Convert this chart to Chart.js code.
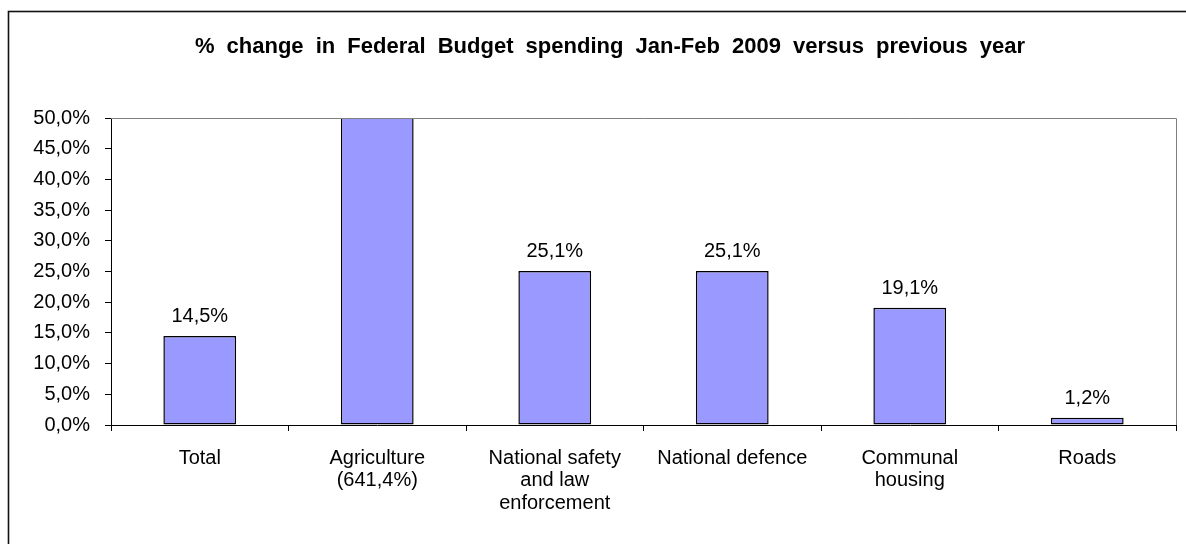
<!DOCTYPE html>
<html>
<head>
<meta charset="utf-8">
<script src="https://cdn.jsdelivr.net/npm/chart.js@4"></script>
<style>
  html, body { margin: 0; padding: 0; background: #fff; }
  #wrap { width: 1186px; height: 544px; position: relative; }
</style>
</head>
<body>
<div id="wrap"><canvas id="c"></canvas></div>
<script>
// Budget spending change, Jan-Feb 2009 vs the same period of the previous year
const titleText = '% change in Federal Budget spending Jan-Feb 2009 versus previous year';
const categories = [
  ['Total'],
  ['Agriculture', '(641,4%)'],
  ['National safety', 'and law', 'enforcement'],
  ['National defence'],
  ['Communal', 'housing'],
  ['Roads']
];
const changePct = [14.5, 641.4, 25.1, 25.1, 19.1, 1.2];
const yMin = 0;
const yMax = 50;
const yStep = 5;

const FONT = "'Liberation Sans', Arial, sans-serif";
const fmtPct = (v, d) => v.toFixed(d).replace('.', ',') + '%';

// Outer frame, plot-area frame and the title
const framePlugin = {
  id: 'frame',
  beforeDraw(chart) {
    const ctx = chart.ctx;
    ctx.save();
    ctx.fillStyle = '#fff';
    ctx.fillRect(0, 0, chart.width, chart.height);
    ctx.strokeStyle = '#111';
    ctx.lineWidth = 1.6;
    ctx.strokeRect(8.5, 11.5, chart.width + 50, chart.height + 50);
    ctx.restore();
  },
  afterDraw(chart) {
    const ctx = chart.ctx;
    const a = chart.chartArea;
    ctx.save();
    ctx.strokeStyle = '#808080';
    ctx.lineWidth = 1;
    ctx.beginPath();
    ctx.moveTo(a.left, a.top + 0.5);
    ctx.lineTo(a.right + 0.5, a.top + 0.5);
    ctx.lineTo(a.right + 0.5, a.bottom);
    ctx.stroke();
    ctx.fillStyle = '#000';
    ctx.font = 'bold 22px ' + FONT;
    ctx.textAlign = 'center';
    ctx.textBaseline = 'middle';
    if ('wordSpacing' in ctx) ctx.wordSpacing = '6px';
    ctx.fillText(titleText, 610, 47);
    ctx.restore();
  }
};

// Value labels above each bar that ends inside the axis range
const valueLabels = {
  id: 'valueLabels',
  afterDatasetsDraw(chart) {
    const ctx = chart.ctx;
    const meta = chart.getDatasetMeta(0);
    ctx.save();
    ctx.fillStyle = '#000';
    ctx.font = '20px ' + FONT;
    ctx.textAlign = 'center';
    ctx.textBaseline = 'alphabetic';
    meta.data.forEach((bar, i) => {
      const v = changePct[i];
      if (v > yMax) return;
      ctx.fillText(fmtPct(v, 1), bar.x, bar.y - 14);
    });
    ctx.restore();
  }
};

new Chart(document.getElementById('c'), {
  type: 'bar',
  data: {
    labels: categories,
    datasets: [{
      data: changePct,
      backgroundColor: '#9999FF',
      borderColor: '#000',
      borderWidth: 1.5,
      borderSkipped: false,
      categoryPercentage: 1,
      barPercentage: 0.41
    }]
  },
  options: {
    responsive: true,
    maintainAspectRatio: false,
    animation: false,
    devicePixelRatio: 1,
    layout: { padding: { left: 0, right: 10, top: 118, bottom: 0 } },
    plugins: {
      legend: { display: false },
      title: { display: false },
      tooltip: { enabled: false }
    },
    scales: {
      x: {
        afterFit(scale) { scale.height = 119; },
        grid: {
          offset: true,
          drawOnChartArea: false,
          drawTicks: true,
          tickLength: 6,
          tickColor: '#000'
        },
        border: { color: '#000', width: 1 },
        ticks: {
          color: '#000',
          font: { family: FONT, size: 20, lineHeight: 1.13 },
          padding: 16,
          maxRotation: 0,
          autoSkip: false
        }
      },
      y: {
        min: yMin,
        max: yMax,
        afterFit(scale) { scale.width = 111; },
        grid: {
          drawOnChartArea: false,
          drawTicks: true,
          tickLength: 6,
          tickColor: '#000'
        },
        border: { color: '#000', width: 1 },
        ticks: {
          stepSize: yStep,
          color: '#000',
          padding: 15,
          font: { family: FONT, size: 20 },
          callback: (v) => fmtPct(v, 1)
        }
      }
    }
  },
  plugins: [framePlugin, valueLabels]
});
</script>
</body>
</html>
